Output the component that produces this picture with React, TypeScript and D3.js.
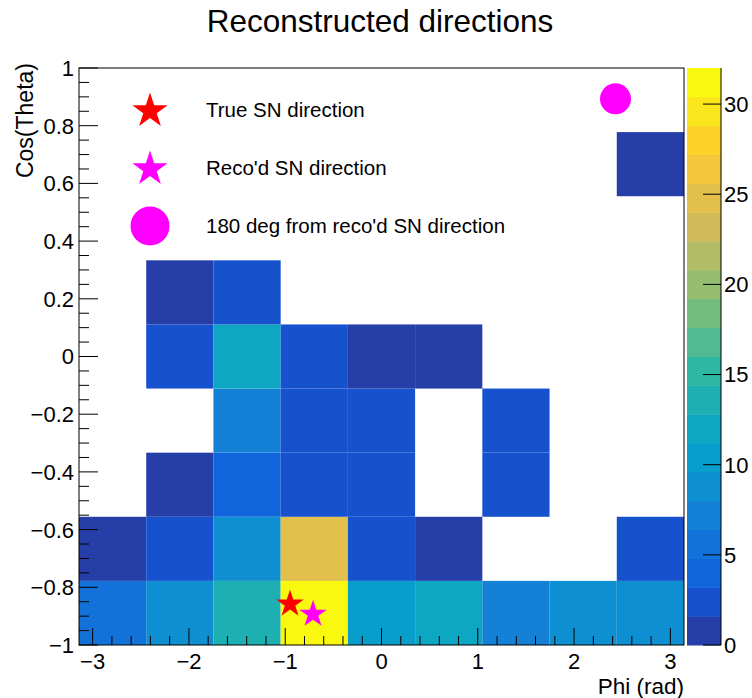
import React from "react";
import * as d3 from "d3";

// ---- Data ----
const PHI_MIN = -Math.PI;
const PHI_MAX = Math.PI;
const COS_MIN = -1;
const COS_MAX = 1;
const N_PHI_BINS = 9;
const N_COS_BINS = 9;

// counts per cos(theta) row, from bottom row (cos = -1) upwards; columns phi bins from -pi
const row0 = [5, 9, 14, 32, 10, 12, 7, 9, 9];
const row1 = [1, 2, 9, 25, 2, 1, 0, 0, 2];
const row2 = [0, 1, 4, 2, 2, 0, 2, 0, 0];
const row3 = [0, 0, 7, 2, 2, 0, 2, 0, 0];
const row4 = [0, 2, 12, 2, 1, 1, 0, 0, 0];
const row5 = [0, 1, 2, 0, 0, 0, 0, 0, 0];
const row6 = [0, 0, 0, 0, 0, 0, 0, 0, 0];
const row7 = [0, 0, 0, 0, 0, 0, 0, 0, 1];
const row8 = [0, 0, 0, 0, 0, 0, 0, 0, 0];
const rows = [row0, row1, row2, row3, row4, row5, row6, row7, row8];

const Z_MAX = 32;
const N_CONTOURS = 20;

const xTicks = [-3, -2, -1, 0, 1, 2, 3];
const yTicks = [-1, -0.8, -0.6, -0.4, -0.2, 0, 0.2, 0.4, 0.6, 0.8, 1];
const zTicks = [0, 5, 10, 15, 20, 25, 30];

const trueDir = { phi: -0.95, cos: -0.858 };
const recoDir = { phi: -0.711, cos: -0.893 };
const oppDir = { phi: 2.43, cos: 0.893 };

const legendItems = [
  { label: "True SN direction", marker: "star", color: "#ff0000" },
  { label: "Reco'd SN direction", marker: "star", color: "#ff00ff" },
  { label: "180 deg from reco'd SN direction", marker: "circle", color: "#ff00ff" },
];

// ROOT kBird palette
const birdStops = [0, 0.125, 0.25, 0.375, 0.5, 0.625, 0.75, 0.875, 1];
const birdR = [0.2082, 0.0592, 0.078, 0.0232, 0.1802, 0.5301, 0.8186, 0.9956, 0.9764];
const birdG = [0.1664, 0.3599, 0.5041, 0.6419, 0.7178, 0.7492, 0.7328, 0.7862, 0.9832];
const birdB = [0.5293, 0.8684, 0.8385, 0.7914, 0.6425, 0.4662, 0.3499, 0.1968, 0.0539];

function buildPalette(n: number): string[] {
  const pal: string[] = [];
  for (let g = 1; g < birdStops.length; g++) {
    const nc = Math.floor(n * birdStops[g]) - Math.floor(n * birdStops[g - 1]);
    for (let c = 0; c < nc; c++) {
      const r = birdR[g - 1] + (c * (birdR[g] - birdR[g - 1])) / nc;
      const gg = birdG[g - 1] + (c * (birdG[g] - birdG[g - 1])) / nc;
      const b = birdB[g - 1] + (c * (birdB[g] - birdB[g - 1])) / nc;
      pal.push(d3.rgb(r * 255, gg * 255, b * 255).formatHex());
    }
  }
  return pal;
}
const palette = buildPalette(255);

function bandColor(band: number): string {
  let idx = Math.floor(((band + 0.99) * 255) / N_CONTOURS);
  if (idx > 254) idx = 254;
  return palette[idx];
}
function zColor(z: number): string {
  const band = Math.floor(0.01 + (z * N_CONTOURS) / Z_MAX);
  return bandColor(Math.min(band, N_CONTOURS - 1));
}

function starPath(cx: number, cy: number, R: number): string {
  const r = R * 0.382;
  const pts: string[] = [];
  for (let i = 0; i < 10; i++) {
    const rad = i % 2 === 0 ? R : r;
    const a = -Math.PI / 2 + (i * Math.PI) / 5;
    pts.push(`${cx + rad * Math.cos(a)},${cy + rad * Math.sin(a)}`);
  }
  return "M" + pts.join("L") + "Z";
}

const FONT = "'Liberation Sans', Arial, Helvetica, sans-serif";
const fmt = (v: number) => {
  const s = Number.isInteger(v) ? String(v) : v.toFixed(1);
  return s.replace("-", "\u2212");
};

export default function App() {
  const W = 752;
  const H = 698;
  const left = 79;
  const right = 684;
  const top = 68;
  const bottom = 645;
  const cbLeft = 687;
  const cbRight = 721;

  const x = d3.scaleLinear().domain([PHI_MIN, PHI_MAX]).range([left, right]);
  const y = d3.scaleLinear().domain([COS_MIN, COS_MAX]).range([bottom, top]);
  const z = d3.scaleLinear().domain([0, Z_MAX]).range([bottom, top]);

  const dPhi = (PHI_MAX - PHI_MIN) / N_PHI_BINS;
  const dCos = (COS_MAX - COS_MIN) / N_COS_BINS;

  const cells: JSX.Element[] = [];
  rows.forEach((row, j) => {
    row.forEach((v, i) => {
      if (v <= 0) return;
      const x0 = x(PHI_MIN + i * dPhi);
      const x1 = x(PHI_MIN + (i + 1) * dPhi);
      const y0 = y(COS_MIN + (j + 1) * dCos);
      const y1 = y(COS_MIN + j * dCos);
      cells.push(
        <rect key={`c${i}-${j}`} x={x0} y={y0} width={x1 - x0} height={y1 - y0} fill={zColor(v)} />
      );
    });
  });

  // minor ticks
  const xMinor: number[] = [];
  for (let k = -16; k <= 16; k++) {
    const vv = k / 5;
    if (vv >= PHI_MIN && vv <= PHI_MAX && k % 5 !== 0) xMinor.push(vv);
  }
  const yMinor: number[] = [];
  for (let k = -20; k <= 20; k++) {
    const v = k * 0.05;
    if (k % 4 !== 0) yMinor.push(v);
  }

  const bands = d3.range(N_CONTOURS);
  const bandH = Z_MAX / N_CONTOURS;

  return (
    <svg width={W} height={H} style={{ display: "block", position: "absolute", left: 0, top: 0 }} fontFamily={FONT}>
      <rect x={0} y={0} width={W} height={H} fill="#ffffff" />
      <text x={380} y={32} textAnchor="middle" fontSize={31.5} fill="#000">
        Reconstructed directions
      </text>

      {cells}

      {/* ticks */}
      {xTicks.map((t) => (
        <line key={`xt${t}`} x1={x(t)} x2={x(t)} y1={bottom} y2={bottom - 17} stroke="#000" strokeWidth={1} />
      ))}
      {xMinor.map((t) => (
        <line key={`xm${t}`} x1={x(t)} x2={x(t)} y1={bottom} y2={bottom - 9} stroke="#000" strokeWidth={1} />
      ))}
      {yTicks.map((t) => (
        <line key={`yt${t}`} x1={left} x2={left + 19} y1={y(t)} y2={y(t)} stroke="#000" strokeWidth={1} />
      ))}
      {yMinor.map((t) => (
        <line key={`ym${t}`} x1={left} x2={left + 10} y1={y(t)} y2={y(t)} stroke="#000" strokeWidth={1} />
      ))}

      {/* frame */}
      <rect x={left} y={top} width={right - left} height={bottom - top} fill="none" stroke="#000" strokeWidth={1} />

      {/* tick labels */}
      {xTicks.map((t) => (
        <text key={`xl${t}`} x={x(t)} y={668.5} textAnchor="middle" fontSize={22} fill="#000">
          {fmt(t)}
        </text>
      ))}
      {yTicks.map((t) => (
        <text key={`yl${t}`} x={74} y={y(t)} dy="0.36em" textAnchor="end" fontSize={22} fill="#000">
          {fmt(t)}
        </text>
      ))}

      {/* axis titles */}
      <text x={684} y={694} textAnchor="end" fontSize={22.5} fill="#000">
        Phi (rad)
      </text>
      <text transform={`translate(33,63) rotate(-90)`} textAnchor="end" fontSize={23} fill="#000">
        Cos(Theta)
      </text>

      {/* colour bar */}
      {bands.map((b) => (
        <rect
          key={`cb${b}`}
          x={cbLeft}
          y={z((b + 1) * bandH)}
          width={cbRight - cbLeft}
          height={z(b * bandH) - z((b + 1) * bandH) + 0.5}
          fill={bandColor(b)}
        />
      ))}
      <line x1={cbRight} x2={cbRight} y1={top} y2={bottom} stroke="#000" strokeWidth={1} />
      {zTicks.map((t) => (
        <g key={`zt${t}`}>
          <line x1={cbRight} x2={cbRight - 18} y1={z(t)} y2={z(t)} stroke="#000" strokeWidth={1} />
          <text x={cbRight + 3} y={z(t)} dy="0.36em" fontSize={22} fill="#000">
            {t}
          </text>
        </g>
      ))}

      {/* markers */}
      <path d={starPath(x(trueDir.phi), y(trueDir.cos), 14.5)} fill="#ff0000" />
      <path d={starPath(x(recoDir.phi), y(recoDir.cos), 14.5)} fill="#ff00ff" />
      <circle cx={x(oppDir.phi)} cy={y(oppDir.cos)} r={15.5} fill="#ff00ff" />

      {/* legend */}
      {legendItems.map((it, i) => {
        const cy = 110 + i * 58;
        return (
          <g key={`lg${i}`}>
            {it.marker === "star" ? (
              <path d={starPath(150, cy + 1, 18.5)} fill={it.color} />
            ) : (
              <circle cx={150} cy={cy} r={19.5} fill={it.color} />
            )}
            <text x={206} y={cy} dy="0.36em" fontSize={20.5} fill="#000">
              {it.label}
            </text>
          </g>
        );
      })}
    </svg>
  );
}
